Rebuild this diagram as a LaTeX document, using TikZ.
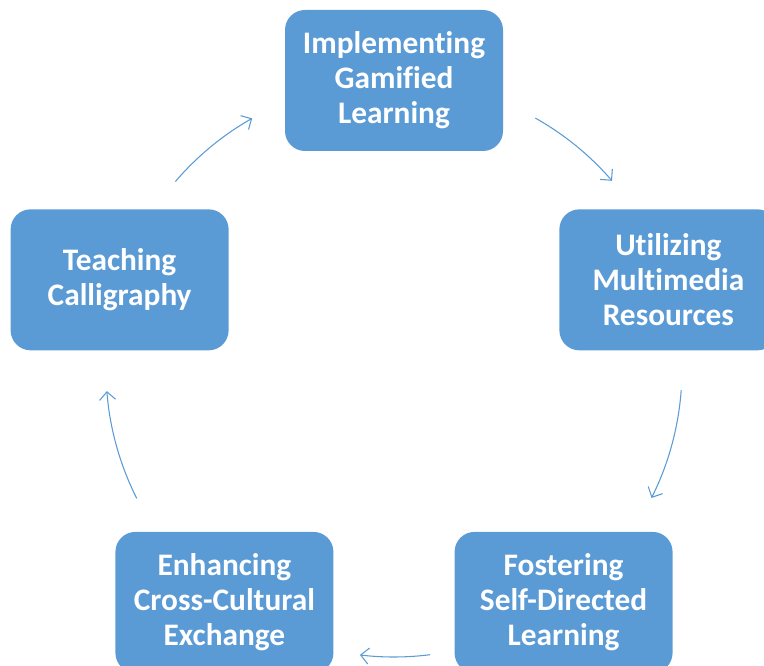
\documentclass[tikz,border=0pt]{standalone}
\usepackage{fontspec}
\setmainfont[Ligatures=NoCommon]{Carlito}
\usetikzlibrary{arrows.meta,calc}
\definecolor{boxblue}{HTML}{5B9BD5}
\tikzset{
  stepbox/.style={draw=none, fill=boxblue, rounded corners=15pt,
    minimum width=163.5pt, minimum height=105.75pt, inner sep=0pt,
    text=white, align=center, font=\fontsize{23.5}{26.25}\selectfont\bfseries},
  cyclearrow/.style={draw=boxblue, line width=0.8pt,
    -{Straight Barb[length=6pt,width=12pt,line width=0.8pt]}}
}
\begin{document}
\begin{tikzpicture}[x=0.75pt,y=0.75pt]
\useasboundingbox (0,0) rectangle (764,666);
\clip (0,0) rectangle (764,666);
\coordinate (c) at (394,297);
\node[stepbox] (top) at ($(c)+(90:288.5)$) {Implementing\\Gamified\\Learning};
\node[stepbox] (right) at ($(c)+(18:288.5)$) {Utilizing\\Multimedia\\Resources};
\node[stepbox] (bright) at ($(c)+(-54:288.5)$) {Fostering\\Self-Directed\\Learning};
\node[stepbox] (bleft) at ($(c)+(-126:288.5)$) {Enhancing\\Cross-Cultural\\Exchange};
\node[stepbox] (left) at ($(c)+(162:288.5)$) {Teaching\\Calligraphy};
\coordinate (a1) at ($(c)+(60.6:288)$);
\coordinate (a2) at ($(c)+(-4.2:288)$);
\coordinate (a3) at ($(c)+(-82.8:288)$);
\coordinate (a4) at ($(c)+(-153.3:288)$);
\coordinate (a5) at ($(c)+(139.4:288)$);
\draw[cyclearrow] (a1) arc[start angle=60.6, end angle=40.8, radius=288];
\draw[cyclearrow] (a2) arc[start angle=-4.2, end angle=-26.6, radius=288];
\draw[cyclearrow] (a3) arc[start angle=-82.8, end angle=-96.8, radius=288];
\draw[cyclearrow] (a4) arc[start angle=-153.3, end angle=-175.6, radius=288];
\draw[cyclearrow] (a5) arc[start angle=139.4, end angle=119.5, radius=288];
\end{tikzpicture}
\end{document}
